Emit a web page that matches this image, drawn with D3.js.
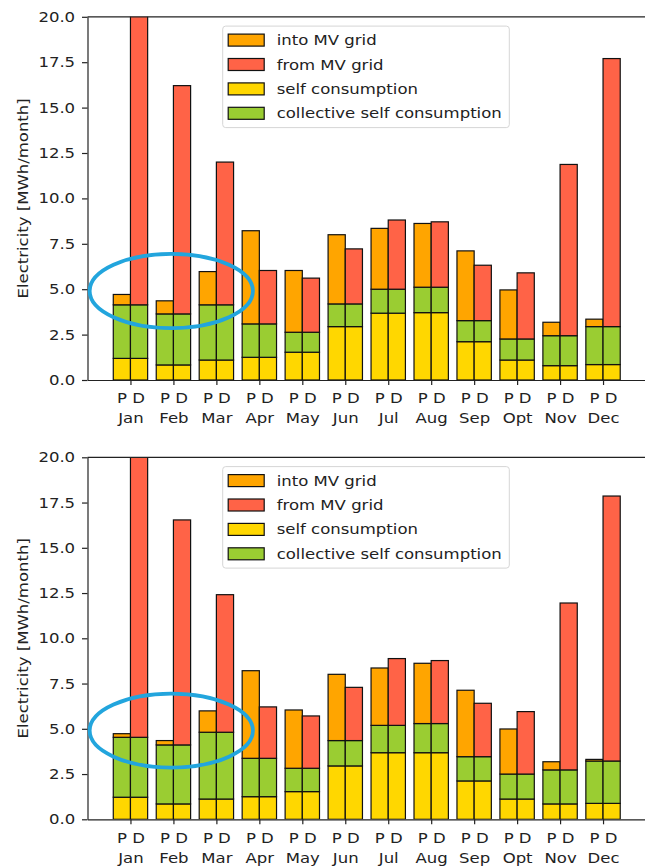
<!DOCTYPE html>
<html>
<head>
<meta charset="utf-8">
<script src="https://cdn.jsdelivr.net/npm/d3@7"></script>
<style>
  body { margin: 0; background: #fff; }
  svg { display: block; }
  text { font-family: "DejaVu Sans", sans-serif; font-size: 14px; fill: #222; }
</style>
</head>
<body>
<svg id="chart"></svg>
<script>
var width = 645, height = 867;

var months = ['Jan', 'Feb', 'Mar', 'Apr', 'May', 'Jun', 'Jul', 'Aug', 'Sep', 'Opt', 'Nov', 'Dec'];
var barTags = ['P', 'D'];
var seriesLabels = ['into MV grid', 'from MV grid', 'self consumption', 'collective self consumption'];
var seriesColors = ['#FFA500', '#FF6347', '#FFD700', '#9ACD32'];
var yTicks = [0, 2.5, 5, 7.5, 10, 12.5, 15, 17.5, 20];

// upper chart, segment heights in MWh/month
var selfUpper = [1.19, 0.83, 1.10, 1.25, 1.53, 2.94, 3.68, 3.71, 2.11, 1.10, 0.79, 0.85];
var collectiveUpper = [2.95, 2.81, 3.04, 1.84, 1.10, 1.25, 1.32, 1.40, 1.16, 1.16, 1.65, 2.09];
var intoGridUpper = [0.57, 0.72, 1.83, 5.13, 3.40, 3.81, 3.35, 3.51, 3.84, 2.70, 0.74, 0.41];
var fromGridUpper = [16.46, 12.57, 7.86, 2.94, 2.98, 3.03, 3.81, 3.60, 3.05, 3.64, 9.43, 14.76];

// lower chart
var selfLower = [1.22, 0.85, 1.12, 1.25, 1.53, 2.95, 3.68, 3.68, 2.12, 1.12, 0.85, 0.88];
var collectiveLower = [3.31, 3.26, 3.69, 2.12, 1.29, 1.40, 1.51, 1.61, 1.34, 1.38, 1.88, 2.34];
var intoGridLower = [0.20, 0.24, 1.18, 4.84, 3.22, 3.66, 3.17, 3.33, 3.67, 2.49, 0.45, 0.09];
var fromGridLower = [16.07, 12.43, 7.60, 2.84, 2.89, 2.94, 3.69, 3.48, 2.95, 3.45, 9.22, 14.64];

// highlight ellipse (data units)
var ringCenter = [0.95, 4.9];
var ringRadius = [1.9, 2.04];

var stretch = 1.18; // text in the picture is wider than DejaVu at this size

var svg = d3.select('#chart')
    .attr('width', width)
    .attr('height', height);

function drawPanel(id, top, bottom, selfV, collV, intoV, fromV) {
    var x = d3.scaleLinear().domain([-1, 12]).range([87.5, 646]);
    var y = d3.scaleLinear().domain([0, 20]).range([bottom, top]);
    var g = svg.append('g');

    g.append('clipPath').attr('id', 'clip' + id)
        .append('rect')
        .attr('x', x(-1)).attr('y', top)
        .attr('width', x(12) - x(-1)).attr('height', bottom - top);

    var rows = months.map(function (m, i) {
        return { i: i, self: selfV[i], coll: collV[i], into: intoV[i], from: fromV[i] };
    });
    var stackP = d3.stack().keys(['self', 'coll', 'into'])(rows);
    var stackD = d3.stack().keys(['self', 'coll', 'from'])(rows);
    var colorOf = { self: seriesColors[2], coll: seriesColors[3], into: seriesColors[0], from: seriesColors[1] };
    var bw = x(0.4) - x(0);

    var bars = g.append('g').attr('clip-path', 'url(#clip' + id + ')');
    [[stackP, -0.4], [stackD, 0]].forEach(function (s) {
        s[0].forEach(function (layer) {
            bars.append('g')
                .attr('fill', colorOf[layer.key])
                .selectAll('rect')
                .data(layer)
                .enter().append('rect')
                .attr('x', function (d) { return x(d.data.i + s[1]); })
                .attr('y', function (d) { return y(d[1]); })
                .attr('width', bw)
                .attr('height', function (d) { return y(d[0]) - y(d[1]); })
                .attr('stroke', '#111')
                .attr('stroke-width', 1.2);
        });
    });

    // y axis
    var yAxis = g.append('g')
        .attr('transform', 'translate(' + x(-1) + ',0)')
        .call(d3.axisLeft(y).tickValues(yTicks).tickSize(5.5).tickSizeOuter(0).tickPadding(5)
            .tickFormat(d3.format('.1f')));
    yAxis.selectAll('text')
        .attr('transform', 'scale(' + stretch + ',1)')
        .style('font-size', '14px').style('font-family', '"DejaVu Sans", sans-serif')
        .attr('fill', '#222');
    yAxis.selectAll('line, path').attr('stroke', '#222').attr('stroke-width', 1.2);

    // x axis
    var xAxis = g.append('g')
        .attr('transform', 'translate(0,' + bottom + ')')
        .call(d3.axisBottom(x).tickValues(d3.range(months.length)).tickSize(5).tickSizeOuter(0)
            .tickFormat(''));
    xAxis.selectAll('line, path').attr('stroke', '#222').attr('stroke-width', 1.2);
    xAxis.selectAll('.tick').each(function (d, i) {
        var t = d3.select(this);
        t.append('text')
            .attr('transform', 'translate(0,23.3) scale(' + stretch + ',1)')
            .attr('text-anchor', 'middle')
            .text(barTags.join(' '));
        t.append('text')
            .attr('transform', 'translate(0,43.3) scale(' + stretch + ',1)')
            .attr('text-anchor', 'middle')
            .text(months[i]);
    });

    // top spine
    g.append('line')
        .attr('x1', x(-1)).attr('x2', x(12))
        .attr('y1', top).attr('y2', top)
        .attr('stroke', '#222').attr('stroke-width', 1.2);

    // y label
    g.append('text')
        .attr('transform', 'translate(27.5,' + (top + bottom) / 2 + ') rotate(-90) scale(' + stretch + ',1)')
        .attr('text-anchor', 'middle')
        .text('Electricity [MWh/month]');

    // legend
    var lg = g.append('g').attr('transform', 'translate(222.7,' + (top + 9.3) + ')');
    lg.append('rect')
        .attr('width', 286.6).attr('height', 101.5)
        .attr('rx', 3)
        .attr('fill', 'rgba(255,255,255,0.8)')
        .attr('stroke', '#d6d6d6').attr('stroke-width', 1);
    seriesLabels.forEach(function (lab, k) {
        var cy = 14 + k * 24.4;
        lg.append('rect')
            .attr('x', 5.5).attr('y', cy - 6)
            .attr('width', 36).attr('height', 12)
            .attr('fill', seriesColors[k])
            .attr('stroke', '#111').attr('stroke-width', 1.2);
        lg.append('text')
            .attr('transform', 'translate(54,' + (cy + 5) + ') scale(' + stretch + ',1)')
            .text(lab);
    });

    // highlight ring
    g.append('ellipse')
        .attr('cx', x(ringCenter[0])).attr('cy', y(ringCenter[1]))
        .attr('rx', x(ringRadius[0]) - x(0)).attr('ry', y(0) - y(ringRadius[1]))
        .attr('fill', 'none')
        .attr('stroke', '#22A5DD')
        .attr('stroke-width', 3.8);
}

drawPanel('a', 16.8, 380, selfUpper, collectiveUpper, intoGridUpper, fromGridUpper);
drawPanel('b', 457.3, 819.3, selfLower, collectiveLower, intoGridLower, fromGridLower);
</script>
</body>
</html>
